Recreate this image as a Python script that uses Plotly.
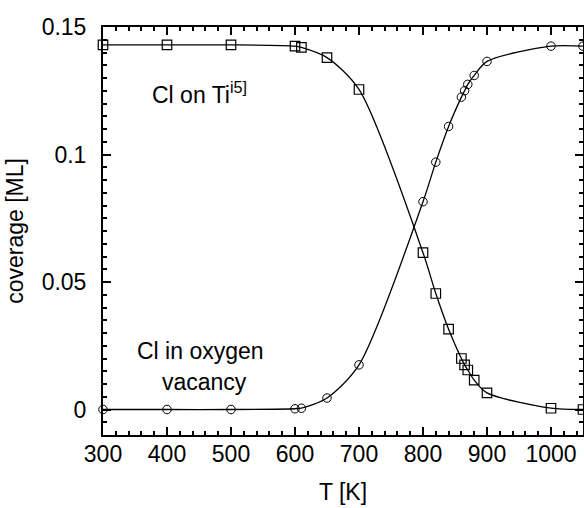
import plotly.graph_objects as go

# Data
T_ti = [300, 400, 500, 600, 610, 650, 700, 800, 820, 840, 860, 865, 870, 880, 900, 1000, 1050]
cov_ti = [0.143, 0.143, 0.143, 0.1425, 0.142, 0.138, 0.1255, 0.0615, 0.0455, 0.0315, 0.020, 0.0175, 0.0155, 0.0115, 0.0065, 0.0005, 0.0]

T_vac = [300, 400, 500, 600, 610, 650, 700, 800, 820, 840, 860, 865, 870, 880, 900, 1000, 1050]
cov_vac = [0.0, 0.0, 0.0, 0.0003, 0.0005, 0.0045, 0.0175, 0.0815, 0.097, 0.111, 0.1225, 0.125, 0.1275, 0.131, 0.1365, 0.1425, 0.1425]

x_ticks = [300, 400, 500, 600, 700, 800, 900, 1000]
y_ticks = [0, 0.05, 0.1, 0.15]
y_ticktext = ["0", "0.05", "0.1", "0.15"]

font_family = "Liberation Sans, Arial, sans-serif"

fig = go.Figure()
fig.add_trace(go.Scatter(
    x=T_ti, y=cov_ti, mode="lines+markers",
    line=dict(color="black", width=1.3, shape="spline", smoothing=0.8),
    marker=dict(symbol="square-open", size=9.5, color="black", line=dict(width=1.2)),
    showlegend=False, cliponaxis=False,
))
fig.add_trace(go.Scatter(
    x=T_vac, y=cov_vac, mode="lines+markers",
    line=dict(color="black", width=1.3, shape="spline", smoothing=0.8),
    marker=dict(symbol="circle-open", size=8.5, color="black", line=dict(width=1)),
    showlegend=False, cliponaxis=False,
))

ann_font = dict(size=23, color="black", family=font_family)
fig.add_annotation(x=451, y=0.124, text="Cl on Ti<sup>i5]</sup>", showarrow=False, font=ann_font)
fig.add_annotation(x=452, y=0.0231, text="Cl in oxygen", showarrow=False, font=ann_font)
fig.add_annotation(x=459, y=0.0106, text="vacancy", showarrow=False, font=ann_font)

axis_common = dict(
    showline=True, linecolor="black", linewidth=2, mirror="allticks",
    ticks="inside", ticklen=8, tickwidth=2, tickcolor="black",
    showgrid=False, zeroline=False, automargin=False,
    tickfont=dict(size=23, color="black", family=font_family),
)

fig.update_xaxes(
    range=[300, 1050], tickvals=x_ticks,
    minor=dict(ticks="inside", dtick=20, ticklen=4, tickwidth=2, tickcolor="black", showgrid=False),
    title=dict(text="T [K]", font=dict(size=23, color="black", family=font_family), standoff=18),
    ticklabelstandoff=-3,
    **axis_common,
)
fig.update_yaxes(
    range=[-0.01, 0.15], tickvals=y_ticks, ticktext=y_ticktext,
    minor=dict(ticks="inside", dtick=0.005, tick0=0, ticklen=4, tickwidth=2, tickcolor="black", showgrid=False),
    title=dict(text="coverage [ML]", font=dict(size=23, color="black", family=font_family), standoff=12),
    ticklabelstandoff=10,
    **axis_common,
)

fig.update_layout(
    width=584, height=508,
    margin=dict(l=103, r=1, t=27, b=73),
    paper_bgcolor="white", plot_bgcolor="white",
    font=dict(family=font_family, color="black"),
)

fig.write_html("out.html", config={"displayModeBar": False},
               post_script="document.body.style.margin='0';")
